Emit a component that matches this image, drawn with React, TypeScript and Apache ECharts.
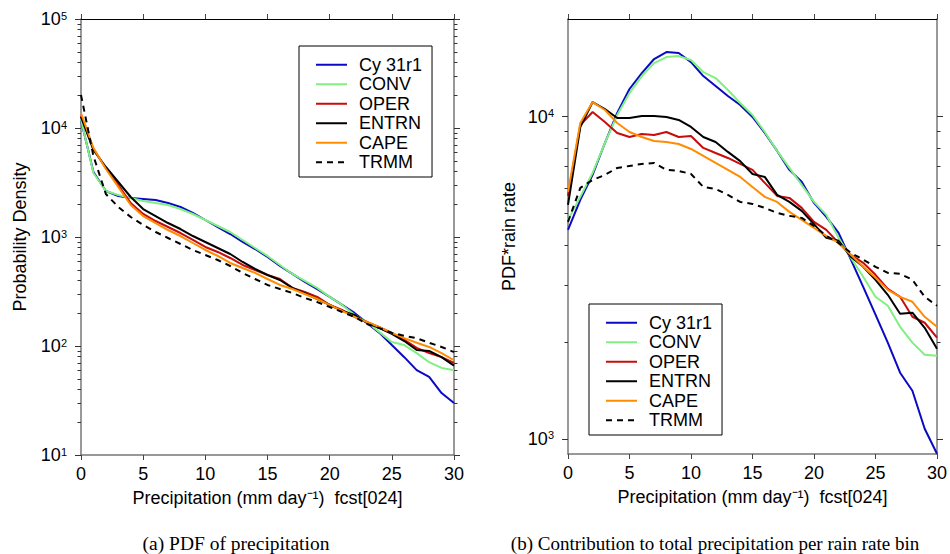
import React, { useEffect, useRef } from "react";
import * as echarts from "echarts";

const PRECIP = [0, 1, 2, 3, 4, 5, 6, 7, 8, 9, 10, 11, 12, 13, 14, 15, 16, 17, 18, 19, 20, 21, 22, 23, 24, 25, 26, 27, 28, 29, 30];

const SERIES_NAMES = ["Cy 31r1", "CONV", "OPER", "ENTRN", "CAPE", "TRMM"];
const SERIES_COLORS = ["#0a0ac4", "#80f080", "#c80c0c", "#000000", "#ff8c00", "#000000"];

// (a) PDF of precipitation
const PDF_CY31R1 = [11800, 3948, 2642, 2378, 2280, 2232, 2185, 2050, 1885, 1661, 1432, 1235, 1065, 900, 776, 655, 542, 458, 387, 333, 282, 238, 201, 163, 132, 102, 79, 60, 52, 37, 30];
const PDF_CONV = [12000, 3866, 2642, 2428, 2280, 2139, 2050, 1966, 1806, 1626, 1432, 1262, 1111, 939, 793, 670, 554, 458, 395, 341, 282, 238, 193, 166, 134, 109, 102, 86, 71, 63, 60];
const PDF_OPER = [12886, 6418, 4296, 3000, 2050, 1626, 1402, 1235, 1088, 939, 810, 729, 642, 554, 498, 448, 412, 341, 313, 282, 238, 214, 185, 166, 149, 132, 114, 96, 86, 79, 70];
const PDF_ENTRN = [12616, 6283, 4387, 3196, 2328, 1806, 1558, 1344, 1184, 1021, 900, 793, 698, 590, 509, 448, 403, 341, 306, 270, 238, 210, 193, 163, 146, 129, 111, 92, 90, 79, 66];
const PDF_CAPE = [13726, 6553, 4206, 2875, 1966, 1558, 1344, 1159, 1021, 881, 760, 670, 578, 519, 468, 412, 363, 333, 300, 270, 238, 210, 185, 166, 149, 132, 118, 107, 98, 86, 74];
const PDF_TRMM = [20088, 5536, 2480, 1885, 1526, 1289, 1111, 979, 863, 760, 684, 615, 542, 468, 412, 363, 333, 306, 276, 253, 228, 205, 185, 159, 146, 132, 124, 118, 107, 98, 88];

// (b) PDF * rain rate
const PR_CY31R1 = [4455, 5518, 6597, 8286, 10270, 12190, 13660, 15100, 15870, 15760, 14770, 13370, 12450, 11590, 10870, 9980, 8900, 7830, 6840, 6280, 5400, 4890, 4360, 3600, 2965, 2430, 1990, 1605, 1411, 1076, 900];
const PR_CONV = [4784, 5638, 6692, 8286, 10120, 11840, 13370, 14670, 15310, 15420, 14990, 13760, 13180, 12100, 11030, 10120, 8965, 7830, 6934, 6142, 5439, 4959, 4207, 3648, 3185, 2761, 2590, 2229, 1990, 1825, 1812];
const PR_OPER = [5678, 9425, 10340, 9630, 8900, 8650, 8839, 8776, 8965, 8650, 8713, 8000, 7718, 7447, 7135, 6840, 6230, 5678, 5598, 5212, 4717, 4455, 4058, 3727, 3520, 3231, 2924, 2761, 2394, 2294, 2061];
const PR_ENTRN = [5324, 9292, 11107, 10566, 9908, 9908, 10051, 10051, 9979, 9768, 9292, 8650, 8348, 7775, 7280, 6643, 6503, 5719, 5439, 5102, 4640, 4207, 4120, 3674, 3421, 3118, 2801, 2446, 2464, 2213, 1905];
const PR_CAPE = [5842, 9561, 11100, 10490, 9561, 8965, 8650, 8408, 8348, 8230, 7941, 7554, 7186, 6840, 6504, 6055, 5638, 5439, 5066, 4784, 4519, 4268, 4058, 3727, 3421, 3162, 2902, 2761, 2665, 2394, 2229];
const PR_TRMM = [4717, 6012, 6366, 6597, 6934, 7034, 7135, 7186, 6840, 6786, 6643, 6055, 5969, 5719, 5439, 5363, 5212, 5030, 4923, 4853, 4584, 4268, 4058, 3780, 3600, 3421, 3277, 3254, 3118, 2761, 2590];

const PDF_SERIES = [PDF_CY31R1, PDF_CONV, PDF_OPER, PDF_ENTRN, PDF_CAPE, PDF_TRMM];
const PR_SERIES = [PR_CY31R1, PR_CONV, PR_OPER, PR_ENTRN, PR_CAPE, PR_TRMM];

// Tick values
const X_TICK_INTERVAL = 5;
const PDF_MAJOR_TICKS = [10, 100, 1000, 10000, 100000];
const PDF_MINOR_TICKS = [20, 30, 40, 50, 60, 70, 80, 90, 200, 300, 400, 500, 600, 700, 800, 900, 2000, 3000, 4000, 5000, 6000, 7000, 8000, 9000, 20000, 30000, 40000, 50000, 60000, 70000, 80000, 90000];
const PR_MAJOR_TICKS = [1000, 10000];
const PR_MINOR_TICKS = [2000, 3000, 4000, 5000, 6000, 7000, 8000, 9000];

const X_NAME = "Precipitation (mm day\u207B\u00B9)  fcst[024]";
const CAPTION_A = "(a) PDF of precipitation";
const CAPTION_B = "(b) Contribution to total precipitation per rain rate bin";

const FONT = "'Liberation Sans', Arial, Helvetica, sans-serif";
const SERIF = "'Liberation Serif', 'Times New Roman', serif";

const powLabel = (v: number) => {
  const e = Math.round(Math.log10(v));
  return `{b|10}{s|${e}}`;
};
const powRich = {
  b: { fontSize: 18, fontFamily: FONT, color: "#000" },
  s: { fontSize: 11, fontFamily: FONT, color: "#000", verticalAlign: "top" },
};

function buildOption() {
  const grids = [
    { left: 81, top: 19, width: 373, height: 436 },
    { left: 568, top: 19, width: 373, height: 435 },
  ];

  const xAxes: any[] = [];
  grids.forEach((_, gi) => {
    xAxes.push({
      type: "value",
      gridIndex: gi,
      min: 0,
      max: 30,
      interval: X_TICK_INTERVAL,
      position: "bottom",
      axisLine: { show: true, onZero: false, lineStyle: { color: "#777", width: 1.5 } },
      axisTick: { show: true, inside: false, length: 5, lineStyle: { color: "#444" } },
      axisLabel: { fontSize: 18, fontFamily: FONT, color: "#000", margin: 10 },
      splitLine: { show: false },
      name: X_NAME,
      nameLocation: "middle",
      nameGap: 34,
      nameTextStyle: { fontSize: 18, fontFamily: FONT, color: "#000" },
    });
    xAxes.push({
      type: "value",
      gridIndex: gi,
      min: 0,
      max: 30,
      interval: X_TICK_INTERVAL,
      position: "top",
      axisLine: { show: true, onZero: false, lineStyle: { color: "#000", width: 1 } },
      axisTick: { show: true, inside: false, length: 5, lineStyle: { color: "#444" } },
      axisLabel: { show: false },
      splitLine: { show: false },
    });
  });

  const yAxes: any[] = [];
  const yConf = [
    { min: 10, max: 100000, major: PDF_MAJOR_TICKS, minor: PDF_MINOR_TICKS, name: "Probability Density", gap: 52 },
    { min: 898, max: 20100, major: PR_MAJOR_TICKS, minor: PR_MINOR_TICKS, name: "PDF*rain rate", gap: 50 },
  ];
  yConf.forEach((c, gi) => {
    (["left", "right"] as const).forEach((pos) => {
      yAxes.push({
        type: "log",
        logBase: 10,
        gridIndex: gi,
        min: c.min,
        max: c.max,
        position: pos,
        axisLine: { show: true, onZero: false, lineStyle: { color: "#777", width: 1.5 } },
        axisTick: { show: true, inside: false, length: 6, customValues: c.major, lineStyle: { color: "#333" } },
        axisLabel: pos === "left"
          ? { show: true, customValues: c.major, formatter: powLabel, rich: powRich, margin: 14 }
          : { show: false },
        minorTick: { show: false },
        splitLine: { show: false },
        name: pos === "left" ? c.name : "",
        nameLocation: "middle",
        nameGap: c.gap,
        nameTextStyle: { fontSize: 18, fontFamily: FONT, color: "#000" },
      });
      yAxes.push({
        type: "log",
        logBase: 10,
        gridIndex: gi,
        min: c.min,
        max: c.max,
        position: pos,
        axisLine: { show: false, onZero: false },
        axisTick: { show: true, inside: false, length: 3.5, customValues: c.minor, lineStyle: { color: "#333" } },
        axisLabel: { show: false },
        minorTick: { show: false },
        splitLine: { show: false },
      });
    });
  });

  const series: any[] = [];
  [PDF_SERIES, PR_SERIES].forEach((set, gi) => {
    set.forEach((vals, i) => {
      series.push({
        type: "line",
        name: SERIES_NAMES[i],
        xAxisIndex: gi * 2,
        yAxisIndex: gi * 4,
        data: PRECIP.map((x, j) => [x, vals[j]]),
        symbol: "none",
        showSymbol: false,
        silent: true,
        color: SERIES_COLORS[i],
        lineStyle: {
          color: SERIES_COLORS[i],
          width: 2,
          type: i === 5 ? [6, 5] : "solid",
        },
        z: 2 + i,
      });
    });
  });

  const legendBase = {
    data: SERIES_NAMES,
    orient: "vertical",
    itemWidth: 31,
    itemHeight: 14,
    itemGap: 0,
    padding: [9, 10, 5, 16],
    borderColor: "#000",
    borderWidth: 1,
    borderRadius: 0,
    backgroundColor: "#fff",
    selectedMode: false,
    itemStyle: { color: "rgba(0,0,0,0)", borderWidth: 0, opacity: 0 },
    textStyle: { fontSize: 18, fontFamily: FONT, color: "#000", lineHeight: 19.5, padding: [0, 0, 0, 7] },
  };

  return {
    animation: false,
    backgroundColor: "#fff",
    grid: grids,
    xAxis: xAxes,
    yAxis: yAxes,
    series,
    legend: [
      { ...legendBase, left: 299, top: 46 },
      { ...legendBase, left: 589, top: 304 },
    ],
    graphic: [
      {
        type: "text",
        x: 236,
        y: 543,
        style: { text: CAPTION_A, fontSize: 19.5, fontFamily: SERIF, fill: "#000", align: "center", verticalAlign: "middle" },
      },
      {
        type: "text",
        x: 715,
        y: 543,
        style: { text: CAPTION_B, fontSize: 19, fontFamily: SERIF, fill: "#000", align: "center", verticalAlign: "middle" },
      },
    ],
  };
}

export default function App() {
  const ref = useRef<HTMLDivElement>(null);
  useEffect(() => {
    document.body.style.margin = "0";
    if (!ref.current) return;
    const chart = echarts.init(ref.current, null, { renderer: "svg" });
    chart.setOption(buildOption() as any);
    return () => chart.dispose();
  }, []);
  return <div ref={ref} style={{ width: 950, height: 554 }} />;
}
